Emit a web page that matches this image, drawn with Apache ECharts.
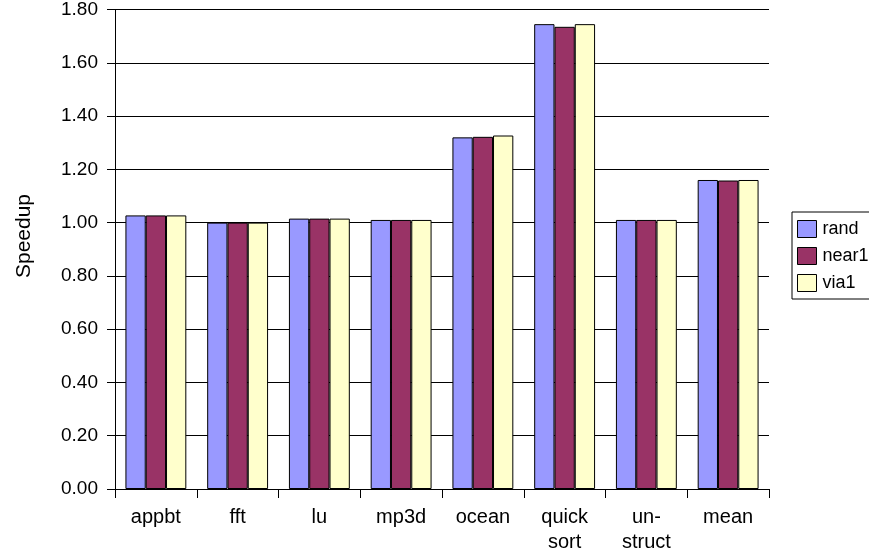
<!DOCTYPE html>
<html>
<head>
<meta charset="utf-8">
<script src="https://cdn.jsdelivr.net/npm/echarts@6/dist/echarts.min.js"></script>
<style>
  html, body { margin: 0; padding: 0; background: #fff; }
  #chart { width: 869px; height: 556px; }
</style>
</head>
<body>
<div id="chart"></div>
<script>
// Benchmarks on the x axis
const categories = ['appbt', 'fft', 'lu', 'mp3d', 'ocean', 'quick\nsort', 'un-\nstruct', 'mean'];

// Speedup per benchmark for each placement policy
const rand  = [1.027, 1.000, 1.015, 1.010, 1.320, 1.745, 1.010, 1.160];
const near1 = [1.027, 1.000, 1.015, 1.010, 1.322, 1.735, 1.010, 1.158];
const via1  = [1.027, 1.000, 1.015, 1.010, 1.327, 1.745, 1.010, 1.160];

const seriesNames = ['rand', 'near1', 'via1'];
const seriesColors = ['#9999FF', '#993366', '#FFFFCC'];
const seriesData = [rand, near1, via1];

const font = 'Liberation Sans, Arial, Helvetica, sans-serif';

const chart = echarts.init(document.getElementById('chart'), null, { renderer: 'canvas' });

chart.setOption({
  animation: false,
  backgroundColor: '#ffffff',
  grid: { left: 115, right: 100, top: 9, bottom: 67, containLabel: false },
  legend: {
    orient: 'vertical',
    left: 792,
    top: 212,
    itemWidth: 19,
    itemHeight: 17,
    itemGap: 9,
    padding: [8, 2, 7, 5],
    borderColor: '#000',
    borderWidth: 1,
    icon: 'rect',
    itemStyle: { borderColor: '#000', borderWidth: 1 },
    textStyle: { fontFamily: font, fontSize: 18, color: '#000', lineHeight: 17, padding: [0, 0, 0, 1] },
    data: seriesNames
  },
  graphic: [{
    type: 'text',
    x: 24,
    y: 236,
    rotation: Math.PI / 2,
    style: {
      text: 'Speedup',
      fontFamily: font,
      fontSize: 21,
      fill: '#000',
      align: 'center',
      verticalAlign: 'middle'
    }
  }],
  xAxis: {
    type: 'category',
    data: categories,
    axisLine: { lineStyle: { color: '#000', width: 1 } },
    axisTick: { show: true, length: 9, lineStyle: { color: '#000' } },
    axisLabel: { fontFamily: font, fontSize: 20, color: '#000', margin: 16, lineHeight: 25 },
    splitLine: { show: false }
  },
  yAxis: {
    type: 'value',
    min: 0,
    max: 1.8,
    interval: 0.2,
    axisLine: { show: true, lineStyle: { color: '#000', width: 1 } },
    axisTick: { show: true, length: 8, lineStyle: { color: '#000' } },
    axisLabel: {
      fontFamily: font, fontSize: 19, color: '#000', margin: 17,
      formatter: v => v.toFixed(2)
    },
    splitLine: { show: true, lineStyle: { color: '#000', width: 1 } }
  },
  series: seriesNames.map((name, i) => ({
    name: name,
    type: 'bar',
    data: seriesData[i],
    barGap: '0%',
    barCategoryGap: '25.5%',
    itemStyle: { color: seriesColors[i], borderColor: '#000', borderWidth: 1 }
  }))
});
</script>
</body>
</html>
